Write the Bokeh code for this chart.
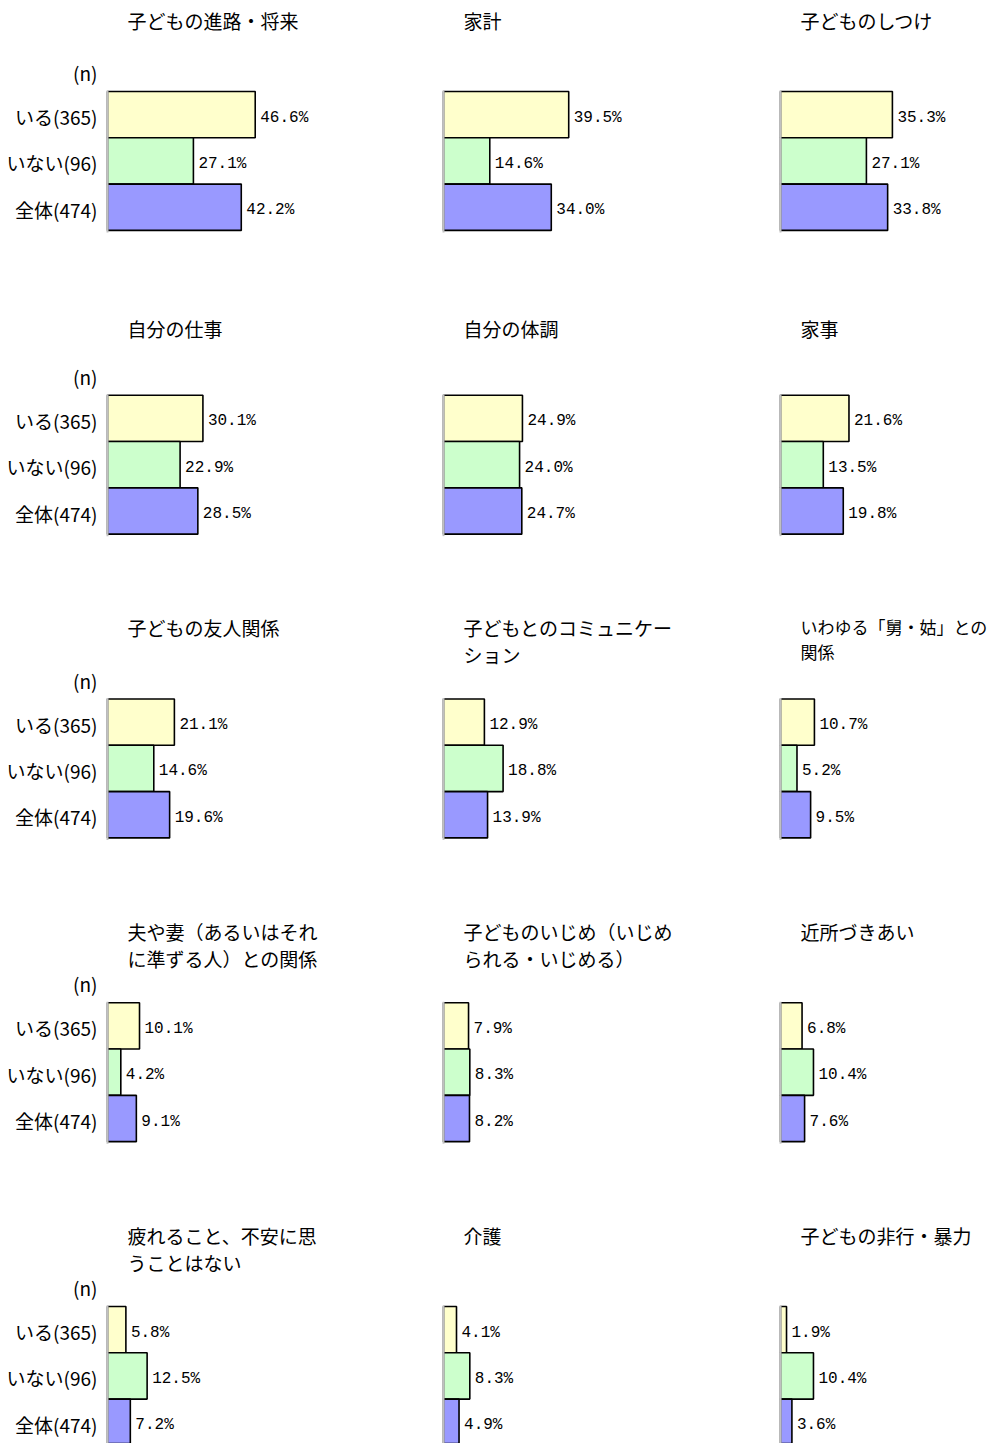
from bokeh.plotting import figure
from bokeh.models import Range1d, ColumnDataSource
from bokeh.core.properties import value
from bokeh.embed import file_html
from bokeh.resources import INLINE

# ---------------- data ----------------
titles = [
    "子どもの進路・将来", "家計", "子どものしつけ",
    "自分の仕事", "自分の体調", "家事",
    "子どもの友人関係", "子どもとのコミュニケー\nション", "いわゆる「舅・姑」との\n関係",
    "夫や妻（あるいはそれ\nに準ずる人）との関係", "子どものいじめ（いじめ\nられる・いじめる）", "近所づきあい",
    "疲れること、不安に思\nうことはない", "介護", "子どもの非行・暴力",
]
groups = ["いる(365)", "いない(96)", "全体(474)"]
v_iru = [46.6, 39.5, 35.3, 30.1, 24.9, 21.6, 21.1, 12.9, 10.7, 10.1, 7.9, 6.8, 5.8, 4.1, 1.9]
v_inai = [27.1, 14.6, 27.1, 22.9, 24.0, 13.5, 14.6, 18.8, 5.2, 4.2, 8.3, 10.4, 12.5, 8.3, 10.4]
v_all = [42.2, 34.0, 33.8, 28.5, 24.7, 19.8, 19.6, 13.9, 9.5, 9.1, 8.2, 7.6, 7.2, 4.9, 3.6]
n_label = "(n)"

# ---------------- style / layout ----------------
colors = ["#FFFFCC", "#CCFFCC", "#9999FF"]
K = 3.17                       # px per percent point
COL_LEFT = [107, 443, 780]     # page px of each column's zero line
ROW_TOP0, ROW_PITCH, BAR_H = 91, 303.75, 46.3
TITLE_DY = [0, 5, 0, 0, 0]
W, H = 988, 1443
PAGE_OFF = 0
JP = value("Noto Sans CJK JP")
NUM = value("Liberation Mono")

x0 = -(COL_LEFT[0] - PAGE_OFF) / K
p = figure(width=W, height=H, x_range=Range1d(x0, x0 + W / K),
           y_range=Range1d(PAGE_OFF + H, PAGE_OFF), output_backend="svg",
           toolbar_location=None, min_border=0, title=None)
p.axis.visible = False
p.grid.visible = False
p.outline_line_color = None
p.background_fill_color = "white"

series = [v_iru, v_inai, v_all]
bar = dict(y=[], left=[], right=[], color=[], label=[], ly=[])
ttl = dict(x=[], y=[], text=[], size=[])
ylab = dict(x=[], y=[], text=[])
axl = dict(x0=[], y0=[], x1=[], y1=[])

for i, t in enumerate(titles):
    r, c = divmod(i, 3)
    off = (COL_LEFT[c] - COL_LEFT[0]) / K
    top = ROW_TOP0 + r * ROW_PITCH
    for g in range(3):
        v = series[g][i]
        yc = top + (g + 0.5) * BAR_H
        bar["y"].append(yc)
        bar["left"].append(off)
        bar["right"].append(off + v)
        bar["color"].append(colors[g])
        bar["label"].append(f"{v:.1f}%")
        bar["ly"].append(yc + 3)
        if c == 0:
            ylab["x"].append(off)
            ylab["y"].append(yc + 2)
            ylab["text"].append(groups[g])
    if c == 0:
        ylab["x"].append(off)
        ylab["y"].append(top - 19)
        ylab["text"].append(n_label)
    longest = max(len(s) for s in t.split("\n"))
    ttl["x"].append(off)
    ttl["y"].append(top - 85 + TITLE_DY[r])
    ttl["text"].append(t)
    ttl["size"].append("17px" if longest >= 11 and c == 2 else "19px")
    axl["x0"].append(off)
    axl["x1"].append(off)
    axl["y0"].append(top - 1)
    axl["y1"].append(top + 3 * BAR_H + 2)

bsrc = ColumnDataSource(bar)
p.hbar(y="y", left="left", right="right", height=BAR_H, fill_color="color",
       line_color="black", line_width=1.6, source=bsrc)
p.segment(x0="x0", y0="y0", x1="x1", y1="y1", line_color="#C0C0C0",
          line_width=2, source=ColumnDataSource(axl))
p.text(x="right", y="ly", text="label", x_offset=5, text_baseline="middle",
       text_align="left", text_font=NUM, text_font_size="16px",
       text_color="black", source=bsrc)
p.text(x="x", y="y", text="text", x_offset=20, text_baseline="top",
       text_align="left", text_font=JP, text_font_size="size",
       text_line_height=1.0, text_color="black", source=ColumnDataSource(ttl))
p.text(x="x", y="y", text="text", x_offset=-10, text_baseline="middle",
       text_align="right", text_font=JP, text_font_size="19px",
       text_color="black", source=ColumnDataSource(ylab))

open("out.html", "w").write(file_html(p, INLINE))
